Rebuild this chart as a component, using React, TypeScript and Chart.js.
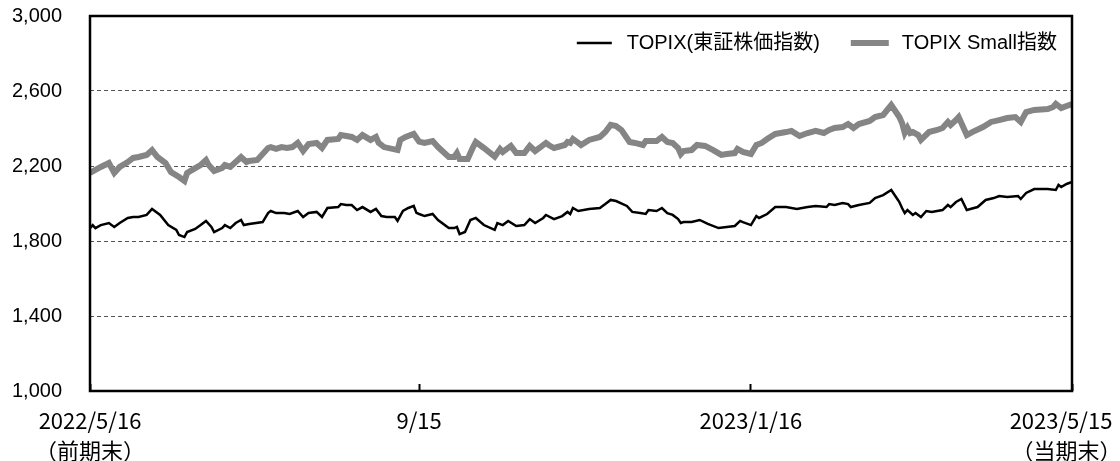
import React, { useEffect, useRef } from 'react';
import { Chart, registerables } from 'chart.js';

Chart.register(...registerables);

// x positions are calendar days since 2022/5/16
const xTickDays = [0, 122, 245, 364];
const xTickLabels: (string | string[])[] = [
  ['2022/5/16', '（前期末）'],
  '9/15',
  '2023/1/16',
  ['2023/5/15\u3000', '（当期末）\u3000'],
];

const yMin = 1000;
const yMax = 3000;
const yStep = 400;

const seriesNames = ['TOPIX(東証株価指数)', 'TOPIX Small指数'];

const topixDays = [
  0, 1, 2, 4, 7, 9, 11, 14, 16, 18, 21, 23, 26, 29, 32, 33, 35, 36, 39, 41, 43, 45, 46, 49, 50, 52, 54, 56, 57, 59,
  64, 66, 67, 69, 72, 74, 77, 79, 81, 84, 86, 88, 92, 93, 95, 97, 99, 101, 104, 106, 108, 110, 113, 114, 116, 118,
  120, 121, 122, 124, 127, 129, 133, 135, 136, 137, 139, 141, 143, 146, 150, 151, 153, 155, 158, 161, 163, 165, 168,
  169, 172, 175, 177, 178, 179, 181, 185, 189, 191, 193, 195, 199, 201, 204, 206, 207, 210, 212, 214, 216, 218, 219,
  220, 223, 226, 229, 233, 236, 239, 241, 242, 245, 247, 248, 251, 254, 256, 258, 262, 266, 269, 273, 274, 276, 279,
  281, 282, 285, 289, 291, 294, 297, 299, 300, 301, 302, 303, 305, 306, 308, 310, 312, 316, 318, 319, 321, 323, 325,
  329, 332, 335, 337, 340, 344, 345, 347, 350, 355, 358, 359, 360, 362, 364,
];
const topixValues = [
  1869, 1885, 1869, 1885, 1896, 1875, 1896, 1923, 1928, 1928, 1939, 1971, 1939, 1885, 1859, 1832, 1821, 1848, 1864,
  1885, 1907, 1875, 1848, 1869, 1885, 1869, 1896, 1912, 1885, 1891,
  1901, 1949, 1960, 1949, 1949, 1944, 1960, 1928, 1949, 1955, 1928, 1976, 1981, 1997, 1992, 1992, 1965, 1981, 1955,
  1971, 1933, 1928, 1928, 1907, 1960, 1976,
  1987, 1950, 1944, 1933, 1944, 1912, 1869, 1869, 1875, 1837, 1848, 1912, 1923, 1885, 1859, 1896, 1885, 1907, 1880,
  1885, 1917, 1896, 1923,
  1939, 1917, 1933, 1955, 1944, 1976, 1960, 1971, 1976, 1997, 2019, 2013, 1987, 1955, 1949, 1944, 1965, 1960, 1976,
  1949, 1939, 1917, 1896,
  1901, 1901, 1912, 1891, 1869, 1875, 1880, 1907, 1901, 1885, 1933, 1923, 1944, 1981, 1981, 1981, 1971, 1981, 1987,
  1981, 1997, 1992, 2003,
  1997, 1981, 1992, 2003, 2029, 2045, 2072, 2029, 2008, 1976, 1949, 1965, 1939, 1949, 1928, 1960, 1955, 1965, 1992,
  1981, 2008, 2024, 1965,
  1981, 2019, 2029, 2040, 2035, 2040, 2024, 2056, 2077, 2077, 2072, 2099, 2088, 2104, 2115,
];

const smallDays = [
  0, 2, 4, 7, 9, 11, 14, 16, 18, 21, 23, 25, 28, 30, 33, 35, 36, 39, 41, 43, 44, 46, 49, 50, 52, 54, 56, 58, 59, 62,
  66, 67, 69, 71, 73, 75, 77, 79, 81, 84, 86, 88, 92, 93, 95, 97, 99, 101, 104, 106, 107, 109, 114, 115, 117, 120,
  122, 124, 127, 129, 133, 135, 136, 137, 140, 142, 143, 146, 150, 152, 153, 156, 158, 161, 163, 165, 167, 169, 170,
  172, 176, 177, 178, 179, 181, 182, 185, 189, 191, 193, 195, 197, 200, 202, 205, 206, 210, 212, 214, 216, 218, 219,
  220, 223, 225, 228, 231, 234, 236, 239, 240, 242, 245, 247, 249, 251, 254, 256, 258, 260, 263, 266, 269, 272, 274,
  276, 279, 281, 283, 285, 289, 291, 294, 297, 299, 300, 301, 302, 303, 304, 305, 307, 308, 311, 314, 316, 318, 319,
  321, 322, 325, 327, 331, 334, 337, 340, 343, 345, 347, 350, 355, 357, 358, 360, 362, 364,
];
const smallValues = [
  2163, 2179, 2195, 2216, 2163, 2195, 2221, 2243, 2248, 2259, 2285, 2248, 2216, 2168, 2141, 2120, 2163, 2189, 2205,
  2232, 2205, 2173, 2189, 2205, 2195, 2221, 2248, 2221, 2227, 2232,
  2296, 2301, 2291, 2301, 2296, 2301, 2323, 2280, 2317, 2323, 2296, 2339, 2344, 2365, 2360, 2355, 2339, 2365, 2339,
  2355, 2323, 2301, 2285, 2339, 2355, 2371,
  2330, 2323, 2333, 2301, 2248, 2248, 2269, 2237, 2237, 2301, 2328, 2296, 2250, 2291, 2275, 2307, 2269, 2269, 2307,
  2280, 2301, 2323, 2312,
  2296, 2312, 2328, 2323, 2344, 2323, 2312, 2339, 2355, 2381, 2419, 2413, 2392, 2328, 2323, 2312, 2333, 2333, 2355,
  2328, 2323, 2296, 2264,
  2280, 2285, 2312, 2307, 2285, 2259, 2264, 2269, 2291, 2275, 2264, 2312, 2323, 2344, 2371, 2376, 2381, 2387, 2360,
  2376, 2387, 2376, 2392,
  2403, 2408, 2424, 2403, 2424, 2440, 2461, 2472, 2525, 2483, 2461, 2429, 2376, 2403, 2376, 2381, 2365, 2339, 2381,
  2392, 2403, 2435, 2419,
  2445, 2461, 2365, 2381, 2408, 2435, 2445, 2456, 2461, 2435, 2488, 2499, 2504, 2515, 2531, 2509, 2520, 2531,
];

const toPoints = (days: number[], values: number[]) => days.map((d, i) => ({ x: d, y: values[i] }));

const zeroPadding = (scale: any) => {
  scale.paddingLeft = 0;
  scale.paddingRight = 0;
  scale.paddingTop = 0;
  scale.paddingBottom = 0;
};

const framePlugin = {
  id: 'frame',
  afterDatasetsDraw(chart: any) {
    const { ctx, chartArea } = chart;
    ctx.save();
    ctx.strokeStyle = '#000';
    ctx.lineWidth = 2.5;
    ctx.strokeRect(chartArea.left, chartArea.top, chartArea.right - chartArea.left, chartArea.bottom - chartArea.top);
    ctx.restore();
  },
};

const legendPlugin = {
  id: 'insideLegend',
  afterDraw(chart: any) {
    const { ctx, chartArea } = chart;
    const ds = chart.data.datasets;
    ctx.save();
    ctx.font = '20px "Liberation Sans", "Noto Sans CJK JP"';
    ctx.textBaseline = 'middle';
    ctx.fillStyle = '#000';
    const sampleLen = [35, 38];
    const sampleGap = [15, 13];
    const itemGap = 31;
    const widths = ds.map((d: any) => ctx.measureText(d.label).width);
    let total = 0;
    ds.forEach((_: any, i: number) => {
      total += sampleLen[i] + sampleGap[i] + widths[i];
    });
    total += itemGap * (ds.length - 1);
    let x = chartArea.right - 15 - total;
    const y = chartArea.top + 27;
    ds.forEach((d: any, i: number) => {
      ctx.beginPath();
      ctx.strokeStyle = d.borderColor;
      ctx.lineWidth = d.borderWidth;
      ctx.moveTo(x, y);
      ctx.lineTo(x + sampleLen[i], y);
      ctx.stroke();
      x += sampleLen[i] + sampleGap[i];
      ctx.fillText(d.label, x, y);
      x += widths[i] + itemGap;
    });
    ctx.restore();
  },
};

export default function App() {
  const canvasRef = useRef<HTMLCanvasElement | null>(null);

  useEffect(() => {
    document.body.style.margin = '0';
    const canvas = canvasRef.current;
    if (!canvas) return;
    const chart = new Chart(canvas, {
      type: 'line',
      data: {
        datasets: [
          {
            label: seriesNames[0],
            data: toPoints(topixDays, topixValues),
            borderColor: '#000000',
            backgroundColor: '#000000',
            borderWidth: 2.5,
            pointRadius: 0,
            tension: 0,
            order: 1,
          },
          {
            label: seriesNames[1],
            data: toPoints(smallDays, smallValues),
            borderColor: '#858585',
            backgroundColor: '#858585',
            borderWidth: 6,
            pointRadius: 0,
            tension: 0,
            order: 2,
          },
        ],
      },
      options: {
        responsive: false,
        animation: false,
        devicePixelRatio: 1,
        layout: { autoPadding: false, padding: { top: 16, right: 48, bottom: 0, left: 0 } },
        plugins: {
          legend: { display: false },
          tooltip: { enabled: false },
        },
        scales: {
          x: {
            type: 'linear',
            min: 0,
            max: 364,
            afterBuildTicks: (scale: any) => {
              scale.ticks = xTickDays.map((v) => ({ value: v }));
            },
            afterFit: (scale: any) => {
              scale.height = 70;
              zeroPadding(scale);
            },
            grid: {
              drawOnChartArea: false,
              drawTicks: true,
              tickLength: -7,
              tickColor: '#000',
              tickWidth: 2,
            },
            border: { display: false },
            ticks: {
              autoSkip: false,
              maxRotation: 0,
              padding: 22,
              color: '#000',
              font: { family: '"Noto Sans CJK JP"', size: 22, lineHeight: '30px' },
              callback: (_v: any, i: number) => xTickLabels[i],
            },
          },
          y: {
            min: yMin,
            max: yMax,
            afterFit: (scale: any) => {
              scale.width = 90;
              zeroPadding(scale);
            },
            grid: {
              color: '#555',
              lineWidth: 1,
              drawTicks: false,
            },
            border: { display: false, dash: [4, 3] },
            ticks: {
              stepSize: yStep,
              padding: 28,
              color: '#000',
              font: { family: '"Liberation Sans"', size: 20 },
              callback: (v: any) => Number(v).toLocaleString('en-US'),
            },
          },
        },
      },
      plugins: [framePlugin, legendPlugin],
    });
    return () => chart.destroy();
  }, []);

  return (
    <div style={{ width: 1120, height: 461 }}>
      <canvas ref={canvasRef} width={1120} height={461} style={{ display: 'block' }} />
    </div>
  );
}
